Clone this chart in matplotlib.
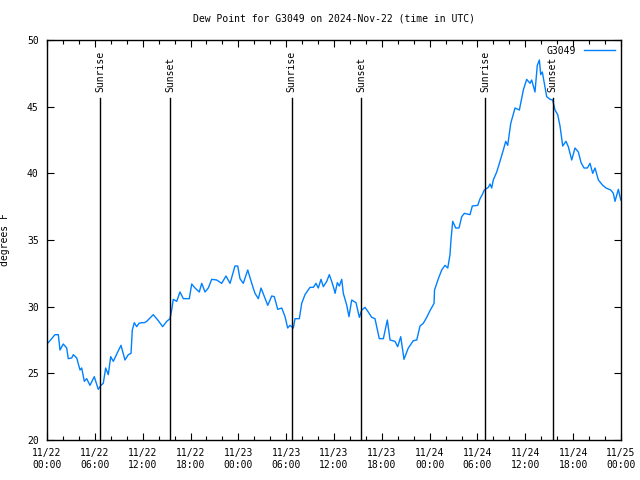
import matplotlib
matplotlib.use("Agg")
import matplotlib.pyplot as plt
from matplotlib.ticker import MultipleLocator

# hours since 2024-11-22 00:00 UTC, dew point in degrees F
hours = [0.16, 1.00, 1.42, 1.63, 2.04, 2.47, 2.67, 3.10, 3.30, 3.73, 4.14, 4.35, 4.68, 4.98,
         5.39, 5.93, 6.43, 6.77, 7.06, 7.36, 7.69, 7.99, 8.32, 8.87, 9.28, 9.78, 10.20, 10.54,
         10.70, 10.95, 11.25, 11.54, 11.88, 12.21, 12.51, 13.33, 13.96, 14.51, 15.02, 15.43,
         15.64, 15.84, 16.27, 16.68, 17.10, 17.85, 18.15, 18.57, 19.10, 19.41, 19.82, 20.23,
         20.66, 21.29, 21.91, 22.45, 22.96, 23.58, 23.92, 24.21, 24.62, 25.18, 25.68, 26.09,
         26.51, 26.85, 27.69, 28.19, 28.51, 28.94, 29.44, 29.86, 30.19, 30.48, 30.90, 31.11,
         31.65, 31.95, 32.36, 32.99, 33.41, 33.74, 34.03, 34.37, 34.66, 35.09, 35.41, 35.71,
         36.04, 36.13, 36.42, 36.67, 36.97, 37.17, 37.60, 37.88, 38.22, 38.76, 39.18, 39.48,
         39.89, 40.30, 40.73, 41.14, 41.68, 42.19, 42.69, 43.03, 43.65, 43.99, 44.37, 44.78,
         45.32, 45.95, 46.38, 46.79, 47.20, 47.63, 48.04, 48.55, 48.61, 49.09, 49.51, 49.93,
         50.27, 50.55, 50.68, 50.89, 51.27, 51.68, 52.02, 52.35, 53.06, 53.35, 54.03, 54.32,
         54.60, 54.85, 55.36, 55.57, 55.78, 55.98, 56.41, 56.82, 57.24, 57.54, 57.79, 58.17,
         58.71, 59.25, 59.75, 60.17, 60.59, 60.80, 61.21, 61.50, 61.76, 61.93, 62.13, 62.38,
         62.68, 63.10, 63.43, 63.72, 64.06, 64.35, 64.69, 65.10, 65.39, 65.82, 66.23, 66.65,
         66.99, 67.36, 67.78, 68.11, 68.45, 68.74, 69.16, 69.71, 70.12, 70.71, 71.04, 71.25,
         71.67, 71.97]
dewpt = [27.3, 27.9, 27.9, 26.75, 27.2, 26.9, 26.1, 26.15, 26.4, 26.15, 25.25, 25.4, 24.4, 24.6,
         24.1, 24.75, 23.8, 24.1, 24.25, 25.4, 24.9, 26.25, 25.9, 26.6, 27.1, 26.0, 26.4, 26.5,
         28.25, 28.8, 28.5, 28.75, 28.8, 28.8, 28.9, 29.4, 28.95, 28.5, 28.9, 29.1,
         29.75, 30.55, 30.4, 31.1, 30.6, 30.6, 31.7, 31.4, 31.1, 31.75, 31.1, 31.4,
         32.05, 32.0, 31.75, 32.3, 31.75, 33.05, 33.05, 32.1, 31.75, 32.75, 31.75, 31.0,
         30.6, 31.4, 30.1, 30.8, 30.75, 29.8, 29.9, 29.25, 28.4, 28.6, 28.4, 29.1,
         29.1, 30.25, 30.9, 31.45, 31.45, 31.75, 31.4, 32.05, 31.5, 31.9, 32.4, 31.9,
         31.25, 31.0, 31.8, 31.55, 32.05, 31.0, 30.1, 29.25, 30.5, 30.3, 29.2, 29.75,
         29.95, 29.6, 29.2, 29.1, 27.6, 27.6, 29.0, 27.5, 27.4, 27.0, 27.75, 26.05,
         26.9, 27.45, 27.5, 28.55, 28.75, 29.2, 29.7, 30.25, 31.25, 32.1, 32.75, 33.1,
         32.9, 33.9, 35.05, 36.4, 35.9, 35.9, 36.75, 37.0, 36.9, 37.55, 37.6, 38.1,
         38.4, 38.75, 38.95, 39.2, 38.9, 39.5, 40.1, 40.9, 41.75, 42.4, 42.1, 43.75,
         44.9, 44.75, 46.25, 47.05, 46.75, 47.0, 46.1, 48.1, 48.5, 47.4, 47.6, 46.75,
         45.75, 45.55, 45.5, 44.75, 44.4, 43.55, 42.05, 42.4, 42.0, 41.0, 41.9, 41.6,
         40.8, 40.4, 40.4, 40.75, 40.0, 40.4, 39.5, 39.1, 38.9, 38.75, 38.5, 37.9,
         38.8, 38.0]

sun_hours = [6.65, 15.43, 30.7, 39.4, 54.95, 63.45]
sun_labels = ["Sunrise", "Sunset", "Sunrise", "Sunset", "Sunrise", "Sunset"]

tick_labels = ["11/22\n00:00", "11/22\n06:00", "11/22\n12:00", "11/22\n18:00",
               "11/23\n00:00", "11/23\n06:00", "11/23\n12:00", "11/23\n18:00",
               "11/24\n00:00", "11/24\n06:00", "11/24\n12:00", "11/24\n18:00",
               "11/25\n00:00"]

plt.rcParams['font.family'] = ['DejaVu Sans Mono']
plt.rcParams['font.size'] = 7

fig = plt.figure(figsize=(6.4, 4.8), dpi=100)
ax = fig.add_axes([47/640, 40/480, 574/640, 400/480])

ax.plot(hours, dewpt, color='#0080ff', lw=1, label='G3049')

for h, lab in zip(sun_hours, sun_labels):
    ax.axvline(h, ymin=0, ymax=0.855, color='black', lw=1)
    ax.text(h, 0.87, lab, rotation=90, ha='center', va='bottom',
            transform=ax.get_xaxis_transform(), fontsize=7)

ax.set_xlim(0, 72)
ax.set_ylim(20, 50)
ax.set_xticks(range(0, 73, 6))
ax.set_xticklabels(tick_labels)
ax.xaxis.set_minor_locator(MultipleLocator(2))
ax.yaxis.set_major_locator(MultipleLocator(5))
ax.tick_params(direction='in', top=True, right=True, length=5, width=0.8, pad=6)
ax.tick_params(which='minor', direction='in', top=True, length=3, width=0.8)
for s in ax.spines.values():
    s.set_linewidth(1)

ax.set_title("Dew Point for G3049 on 2024-Nov-22 (time in UTC)", fontsize=7, pad=13)
ax.set_ylabel("degrees F", fontsize=7)
ax.yaxis.set_label_coords(-0.064, 0.5)

leg = ax.legend(loc='upper right', frameon=False, markerfirst=False,
                handlelength=3.2, borderaxespad=0.2, fontsize=7)

fig.savefig("out.png", dpi=100)
